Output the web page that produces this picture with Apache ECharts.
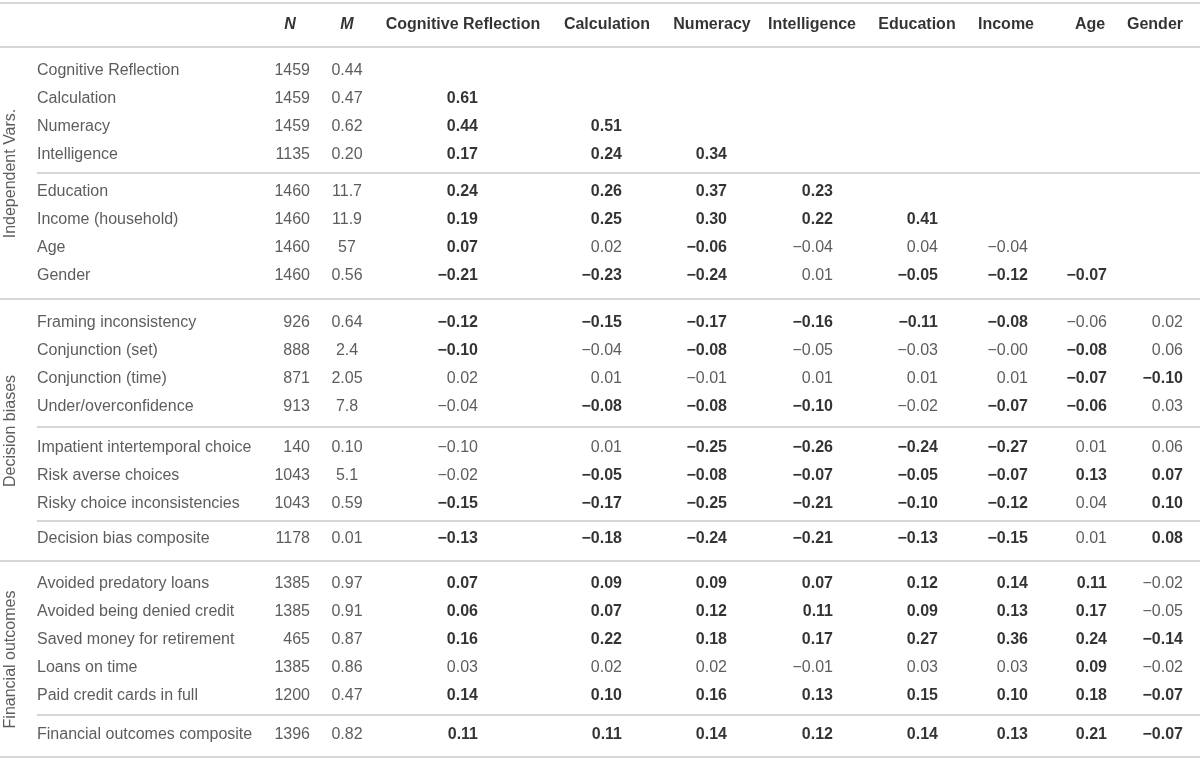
<!DOCTYPE html>
<html><head><meta charset="utf-8">
<script src="https://cdn.jsdelivr.net/npm/echarts@6/dist/echarts.min.js"></script>
<style>html,body{margin:0;padding:0;background:#fff}#c{width:1200px;height:760px}</style>
</head><body><div id="c"></div>
<script>
const columns = ["Cognitive Reflection","Calculation","Numeracy","Intelligence","Education","Income","Age","Gender"];
const rowLabels = ["Cognitive Reflection","Calculation","Numeracy","Intelligence","Education","Income (household)","Age","Gender",
 "Framing inconsistency","Conjunction (set)","Conjunction (time)","Under/overconfidence",
 "Impatient intertemporal choice","Risk averse choices","Risky choice inconsistencies","Decision bias composite",
 "Avoided predatory loans","Avoided being denied credit","Saved money for retirement","Loans on time","Paid credit cards in full","Financial outcomes composite"];
const nValues = [1459,1459,1459,1135,1460,1460,1460,1460,926,888,871,913,140,1043,1043,1178,1385,1385,465,1385,1200,1396];
const mValues = ["0.44","0.47","0.62","0.20","11.7","11.9","57","0.56","0.64","2.4","2.05","7.8","0.10","5.1","0.59","0.01","0.97","0.91","0.87","0.86","0.47","0.82"];
// "*" prefix = bold (significant)
const corr = [
 [],
 ["*0.61"],
 ["*0.44","*0.51"],
 ["*0.17","*0.24","*0.34"],
 ["*0.24","*0.26","*0.37","*0.23"],
 ["*0.19","*0.25","*0.30","*0.22","*0.41"],
 ["*0.07","0.02","*−0.06","−0.04","0.04","−0.04"],
 ["*−0.21","*−0.23","*−0.24","0.01","*−0.05","*−0.12","*−0.07"],
 ["*−0.12","*−0.15","*−0.17","*−0.16","*−0.11","*−0.08","−0.06","0.02"],
 ["*−0.10","−0.04","*−0.08","−0.05","−0.03","−0.00","*−0.08","0.06"],
 ["0.02","0.01","−0.01","0.01","0.01","0.01","*−0.07","*−0.10"],
 ["−0.04","*−0.08","*−0.08","*−0.10","−0.02","*−0.07","*−0.06","0.03"],
 ["−0.10","0.01","*−0.25","*−0.26","*−0.24","*−0.27","0.01","0.06"],
 ["−0.02","*−0.05","*−0.08","*−0.07","*−0.05","*−0.07","*0.13","*0.07"],
 ["*−0.15","*−0.17","*−0.25","*−0.21","*−0.10","*−0.12","0.04","*0.10"],
 ["*−0.13","*−0.18","*−0.24","*−0.21","*−0.13","*−0.15","0.01","*0.08"],
 ["*0.07","*0.09","*0.09","*0.07","*0.12","*0.14","*0.11","−0.02"],
 ["*0.06","*0.07","*0.12","*0.11","*0.09","*0.13","*0.17","−0.05"],
 ["*0.16","*0.22","*0.18","*0.17","*0.27","*0.36","*0.24","*−0.14"],
 ["0.03","0.02","0.02","−0.01","0.03","0.03","*0.09","−0.02"],
 ["*0.14","*0.10","*0.16","*0.13","*0.15","*0.10","*0.18","*−0.07"],
 ["*0.11","*0.11","*0.14","*0.12","*0.14","*0.13","*0.21","*−0.07"]
];
const groups = [{name:"Independent Vars.",from:0,to:7},{name:"Decision biases",from:8,to:15},{name:"Financial outcomes",from:16,to:21}];

// layout
const colRight = [478,622,727,833,938,1028,1107,1183];
const colHead = [463,607,712,812,917,1006,1090,1155];
const extraGap = {4:9,8:19,12:13,15:7,16:17,21:11};
const fullLines = [8,16];
const partLines = [4,12,15,21];
const rowY = []; let acc = 0;
rowLabels.forEach((_,i)=>{ if(extraGap[i]) acc += extraGap[i]; rowY.push(71 + 28*i + acc); });
const sepY = i => (rowY[i-1]+rowY[i])/2 - 1;

const FONT = "Liberation Sans";
const data = [];
function cell(x,y,text,opt){ data.push({value:[x,y],label:Object.assign({formatter:text},opt)}); }
const reg = {color:"#333",fontWeight:"normal"}, bld = {color:"#000",fontWeight:"bold"};
cell(290,25,"N",{align:"center",fontWeight:"bold",fontStyle:"italic",color:"#000"});
cell(347,25,"M",{align:"center",fontWeight:"bold",fontStyle:"italic",color:"#000"});
columns.forEach((c,j)=>cell(colHead[j],25,c,{align:"center",fontWeight:"bold",color:"#000"}));
rowLabels.forEach((r,i)=>{
  const y=rowY[i];
  cell(37,y,r,Object.assign({align:"left"},reg));
  cell(310,y,String(nValues[i]),Object.assign({align:"right"},reg));
  cell(347,y,mValues[i],Object.assign({align:"center"},reg));
  corr[i].forEach((v,j)=>{
    const b=v[0]==="*"; cell(colRight[j],y,b?v.slice(1):v,Object.assign({align:"right"},b?bld:reg));
  });
});
groups.forEach(g=>{
  cell(11,(rowY[g.from]+rowY[g.to])/2,g.name,Object.assign({align:"center",rotate:90},reg));
});
const lines = [];
const L=(x0,y)=>lines.push([{coord:[x0,y]},{coord:[1200,y]}]);
L(0,3); L(0,47); L(0,757);
fullLines.forEach(i=>L(0,sepY(i)));
partLines.forEach(i=>L(37,sepY(i)));

const chart = echarts.init(document.getElementById('c'));
chart.setOption({
  animation:false,
  grid:{left:0,right:0,top:0,bottom:0},
  xAxis:{type:'value',min:0,max:1200,show:false},
  yAxis:{type:'value',min:0,max:760,inverse:true,show:false},
  series:[{type:'scatter',symbolSize:0,data:data,
    label:{show:true,position:'inside',verticalAlign:'middle',fontFamily:FONT,fontSize:16},
    markLine:{silent:true,symbol:['none','none'],label:{show:false},
      lineStyle:{color:'#c8c8c8',width:1.5,type:'solid'},data:lines}
  }]
});
</script></body></html>
